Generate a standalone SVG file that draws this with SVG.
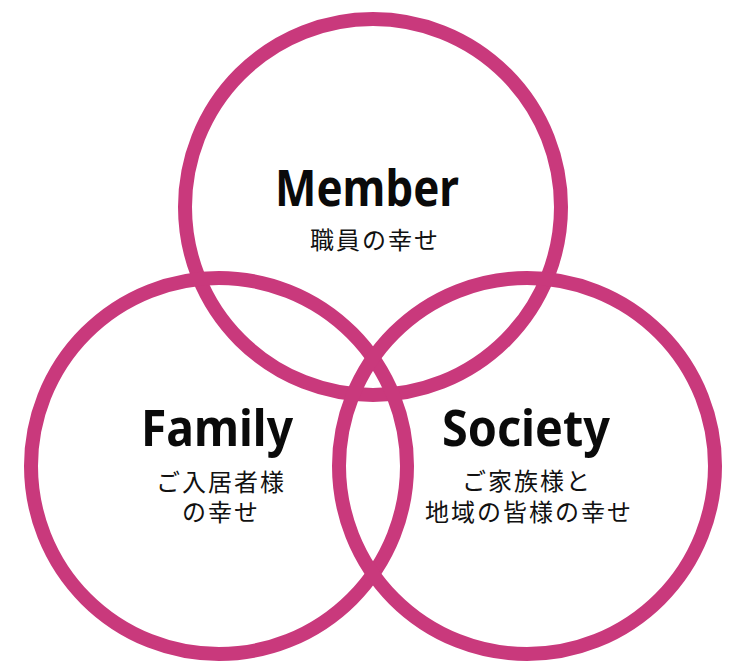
<svg xmlns="http://www.w3.org/2000/svg" width="748" height="662" viewBox="0 0 748 662">
<style>
.ring{fill:none;stroke:#C9397C;stroke-width:14}
.t{font-family:"Noto Sans","Liberation Sans",sans-serif;font-weight:700;font-size:51px;fill:#0a0a0a;text-anchor:middle}
.s{font-family:"Noto Sans CJK JP","Noto Sans",sans-serif;font-weight:400;font-size:24px;fill:#111;text-anchor:middle;letter-spacing:2px}
</style>
<rect width="748" height="662" fill="#fff"/>
<g id="member">
<circle class="ring" cx="373" cy="207" r="188"/>
<text class="t" x="367" y="206" textLength="184" lengthAdjust="spacingAndGlyphs">Member</text>
<text class="s" x="375" y="249">職員の幸せ</text>
</g>
<g id="family">
<circle class="ring" cx="219" cy="466" r="188"/>
<text class="t" x="217" y="446" textLength="152" lengthAdjust="spacingAndGlyphs">Family</text>
<text class="s" y="491"><tspan x="221">ご入居者様</tspan><tspan x="221" dy="30">の幸せ</tspan></text>
</g>
<g id="society">
<circle class="ring" cx="527" cy="466" r="188"/>
<text class="t" x="526" y="446" textLength="168" lengthAdjust="spacingAndGlyphs">Society</text>
<text class="s" y="490"><tspan x="527">ご家族様と</tspan><tspan x="529" dy="31">地域の皆様の幸せ</tspan></text>
</g>
<g id="connectors"></g>
</svg>
